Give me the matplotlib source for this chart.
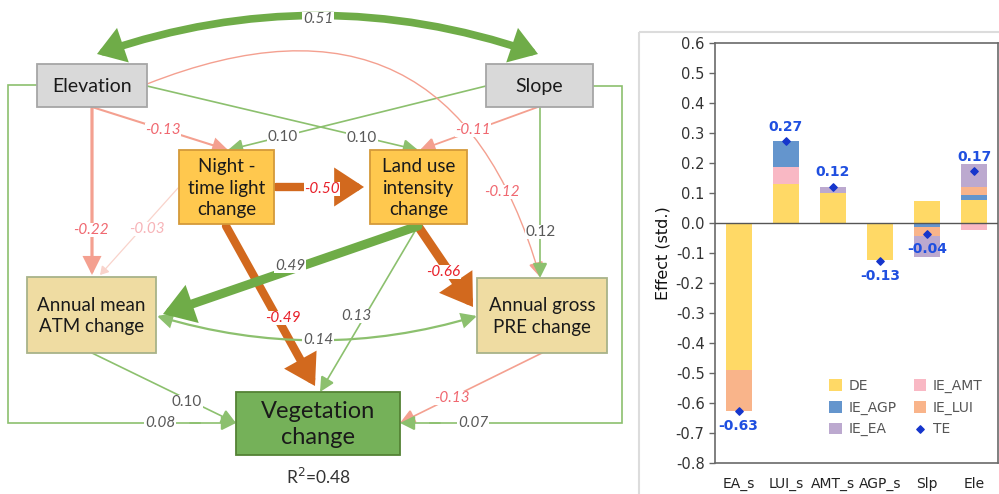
import matplotlib
matplotlib.use("Agg")
import matplotlib.pyplot as plt
from matplotlib.patches import FancyArrowPatch, Rectangle

# ---- path diagram data ----
node_names = ["Elevation", "Slope", "Night -\ntime light\nchange", "Land use\nintensity\nchange",
              "Annual mean\nATM change", "Annual gross\nPRE change", "Vegetation\nchange"]
edge_coef = ["0.51", "-0.13", "0.10", "0.10", "-0.11", "-0.12", "0.12", "-0.22", "-0.03",
             "-0.50", "-0.49", "0.49", "-0.66", "0.13", "0.14", "0.10", "-0.13", "0.08", "0.07"]
r_squared = "0.48"

# ---- bar chart data ----
categories = ["EA_s", "LUI_s", "AMT_s", "AGP_s", "Slp", "Ele"]
de = [-0.49, 0.13, 0.10, -0.125, 0.073, 0.077]
ie_amt = [0.0, 0.058, 0.0, 0.0, 0.0, -0.023]
ie_agp = [0.0, 0.085, 0.0, 0.0, -0.014, 0.015]
ie_lui = [-0.137, 0.0, 0.0, 0.0, -0.030, 0.028]
ie_ea = [0.0, 0.0, 0.02, 0.0, -0.068, 0.078]
te = [-0.627, 0.273, 0.12, -0.126, -0.037, 0.172]

fig = plt.figure(figsize=(9.99, 4.94), dpi=100)
ax = fig.add_axes([0, 0, 1, 1])
ax.set_xlim(0, 999)
ax.set_ylim(494, 0)
ax.axis("off")

DFONT = ["Lato", "DejaVu Sans"]
GREEN = "#8cc06e"
GREEN_T = "#6fac48"
SALMON = "#f4a090"
BROWN = "#d2691e"

# boxes: (x0, y0, x1, y1), face, edge, fontsize
boxes = [
    ((37, 64, 147, 107), "#d9d9d9", "#a6a6a6", 14),
    ((486, 64, 593, 107), "#d9d9d9", "#a6a6a6", 14),
    ((179, 150, 274, 224), "#ffc84e", "#d49a3a", 13.5),
    ((370, 150, 467, 224), "#ffc84e", "#d49a3a", 13.5),
    ((27, 277, 156, 353), "#efdca2", "#a8b389", 13.5),
    ((477, 278, 607, 353), "#efdca2", "#a8b389", 13.5),
    ((236, 392, 400, 455), "#75b159", "#548235", 17),
]
for name, (b, fc, ec, fs) in zip(node_names, boxes):
    x0, y0, x1, y1 = b
    ax.add_patch(Rectangle((x0, y0), x1 - x0, y1 - y0, fc=fc, ec=ec, lw=1.3, zorder=3))
    ax.text((x0 + x1) / 2, (y0 + y1) / 2 + 1, name, ha="center", va="center", fontsize=fs,
            family=DFONT, color="#1a1a1a", linespacing=1.3, zorder=4)
ax.text(318, 477, "R$^2$=" + r_squared, ha="center", va="center", fontsize=12.5,
        family=DFONT, color="#333333")


def arrow(p1, p2, color, lw, rad=0.0, style="-|>", hl=0.9, hw=0.45, z=2):
    a = FancyArrowPatch(p1, p2, arrowstyle=f"{style},head_length={hl},head_width={hw}",
                        connectionstyle=f"arc3,rad={rad}", color=color, lw=lw,
                        shrinkA=0, shrinkB=0, mutation_scale=10, zorder=z,
                        capstyle="round", joinstyle="miter")
    ax.add_patch(a)


def label(x, y, s, color="#595959", italic=True, fs=11):
    ax.text(x, y, s, ha="center", va="center", fontsize=fs, family=DFONT, color=color,
            style="italic" if italic else "normal", zorder=6,
            bbox=dict(fc="white", ec="none", pad=0.3))


RED = "#f06870"
BRED = "#e8202a"

# 0.51 Elevation <-> Slope
arrow((97, 54), (538, 54), GREEN_T, 5.5, rad=-0.17, style="<|-|>", hl=1.2, hw=0.8)
label(318, 19, edge_coef[0])
# -0.13 Elevation -> Night
arrow((92, 107), (228, 150), SALMON, 1.5)
label(163, 130, edge_coef[1], RED)
# 0.10 Slope -> Night
arrow((486, 86), (228, 150), GREEN, 1.2)
label(283, 137, edge_coef[2], italic=False)
# 0.10 Elevation -> Land use
arrow((147, 86), (418, 150), GREEN, 1.2)
label(362, 138, edge_coef[3], italic=False)
# -0.11 Slope -> Land use
arrow((538, 107), (420, 150), SALMON, 1.3)
label(473, 130, edge_coef[4], RED)
# -0.12 Elevation -> PRE
arrow((147, 84), (540, 277), SALMON, 1.0, rad=-0.55)
label(502, 192, edge_coef[5], RED)
# 0.12 Slope -> PRE
arrow((540, 107), (540, 278), GREEN, 1.2)
label(541, 232, edge_coef[6], italic=False)
# -0.22 Elevation -> ATM
arrow((92, 107), (92, 275), SALMON, 2.3, hl=1.0, hw=0.5)
label(91, 230, edge_coef[7], RED)
# -0.03 Night -> ATM
arrow((178, 188), (100, 275), "#f9d3cb", 0.9, hl=0.5, hw=0.3)
label(147, 229, edge_coef[8], "#f7b4b8")
# -0.50 Night -> Land use
arrow((276, 187), (364, 187), BROWN, 6, hl=1.3, hw=0.85)
label(322, 189, edge_coef[9], BRED)
# -0.49 Night -> Vegetation
arrow((226, 226), (315, 386), BROWN, 6, hl=1.3, hw=0.8)
label(283, 318, edge_coef[10], BRED)
# 0.49 Land use -> ATM
arrow((418, 226), (163, 314), GREEN_T, 6.5, hl=1.3, hw=0.85, z=2.5)
label(290, 266, edge_coef[11])
# -0.66 Land use -> PRE
arrow((418, 226), (473, 307), BROWN, 6.5, hl=1.3, hw=0.85)
label(443, 272, edge_coef[12], BRED)
# 0.13 Land use -> Vegetation
arrow((418, 226), (320, 392), GREEN, 1.2)
label(356, 316, edge_coef[13])
# 0.14 ATM <-> PRE
arrow((157, 316), (477, 316), GREEN, 1.6, rad=0.15, style="<|-|>")
label(318, 340, edge_coef[14])
# 0.10 ATM -> Vegetation
arrow((92, 353), (236, 423), GREEN, 1.2)
label(187, 402, edge_coef[15], italic=False)
# -0.13 PRE -> Vegetation
arrow((542, 353), (400, 423), SALMON, 1.2)
label(452, 398, edge_coef[16], RED)
# 0.08 Elevation -> Vegetation (elbow)
ax.plot([37, 8, 8, 200], [85, 85, 423, 423], color=GREEN, lw=1.2, zorder=2, solid_joinstyle="miter")
arrow((190, 423), (236, 423), GREEN, 1.2)
label(160, 423, edge_coef[17])
# 0.07 Slope -> Vegetation (elbow)
ax.plot([593, 622, 622, 430], [86, 86, 423, 423], color=GREEN, lw=1.2, zorder=2, solid_joinstyle="miter")
arrow((440, 423), (400, 423), GREEN, 1.2)
label(473, 423, edge_coef[18])

# right panel frame
ax.add_patch(Rectangle((639, 32), 370, 480, fc="none", ec="#dcdcdc", lw=1.5, zorder=1))

# ---- bar chart ----
bx = fig.add_axes([715 / 999, 31 / 494, 283 / 999, 420 / 494])
pos = list(range(len(categories)))
series = [("DE", de, "#ffd966"), ("IE_AMT", ie_amt, "#f9b8c4"), ("IE_AGP", ie_agp, "#6495cd"),
          ("IE_LUI", ie_lui, "#f9b48a"), ("IE_EA", ie_ea, "#bca9cf")]
pos_base = [0.0] * len(categories)
neg_base = [0.0] * len(categories)
for name, vals, col in series:
    bottoms = [pb if v >= 0 else nb for v, pb, nb in zip(vals, pos_base, neg_base)]
    bx.bar(pos, vals, width=0.55, bottom=bottoms, color=col, label=name, zorder=2)
    pos_base = [pb + v if v >= 0 else pb for v, pb in zip(vals, pos_base)]
    neg_base = [nb + v if v < 0 else nb for v, nb in zip(vals, neg_base)]
bx.scatter(pos, te, marker="D", s=14, color="#1535cc", zorder=4, label="TE")
for p, v in zip(pos, te):
    bx.annotate(f"{v:.2f}", (p, v), xytext=(0, 10.5 if v > 0 else -11), textcoords="offset points",
                ha="center", va="center", fontsize=10, fontweight="bold", color="#1f4fe0")
bx.axhline(0, color="#555555", lw=1.0, zorder=3)
bx.set_xlim(-0.5, 5.5)
bx.set_ylim(-0.8, 0.6)
bx.set_yticks([i / 10 for i in range(-8, 7)])
bx.set_yticklabels([f"{i / 10:.1f}" for i in range(-8, 7)])
bx.set_xticks(pos)
bx.set_xticklabels(categories)
bx.tick_params(axis="x", length=0, pad=10, labelsize=10, labelcolor="#222222")
bx.tick_params(axis="y", length=4, width=1, color="#666666", labelsize=10.5, labelcolor="#333333")
for s in bx.spines.values():
    s.set_color("#6a6a6a")
    s.set_linewidth(1.2)
bx.set_ylabel("Effect (std.)", fontsize=11.5, color="#111111", labelpad=4)
handles, labels = bx.get_legend_handles_labels()
hmap = dict(zip(labels, handles))
leg_order = ["DE", "IE_AGP", "IE_EA", "IE_AMT", "IE_LUI", "TE"]
bx.legend([hmap[k] for k in leg_order], leg_order, ncol=2, loc="upper left",
          bbox_to_anchor=(0.36, 0.23), frameon=False, fontsize=10, handlelength=0.9,
          handleheight=0.9, columnspacing=1.2, labelspacing=0.55, handletextpad=0.5,
          labelcolor="#555555")

fig.savefig("out.png", dpi=100)
